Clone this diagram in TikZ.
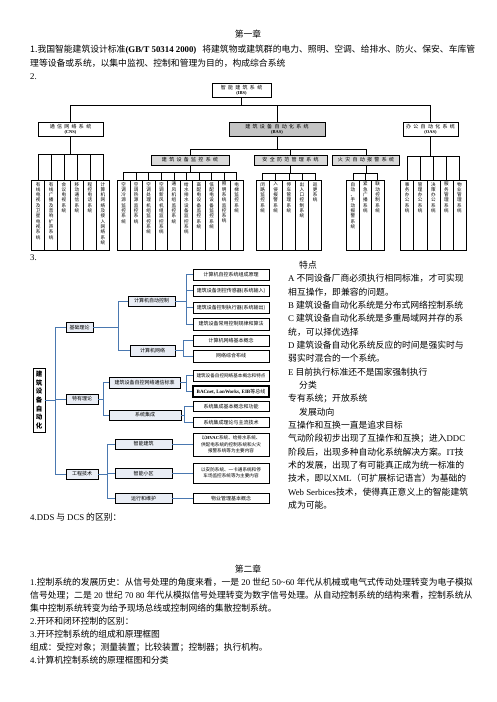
\documentclass[tikz,border=0pt]{standalone}
\usepackage{fontspec}
\setmainfont{Noto Sans CJK SC}
\newfontfamily\tnr{Liberation Serif}
\usetikzlibrary{calc}
\definecolor{bluec}{HTML}{4A78B0}
\definecolor{bfill}{HTML}{E9EDF5}
\definecolor{gA}{HTML}{C4C4C4}
\definecolor{gB}{HTML}{D9D9D9}
\makeatletter
\newdimen\sprgap \sprgap=2.3pt
\def\spr#1{\spr@a#1\relax\kern-\sprgap}
\def\spr@a#1{\ifx\relax#1\else#1\kern\sprgap\expandafter\spr@a\fi}
\def\vst#1{\vst@a#1\relax}
\def\vst@a#1{\ifx\relax#1\else#1\par\expandafter\vst@a\fi}
\makeatother
\begin{document}
\begin{tikzpicture}[x=1pt,y=-1pt,
  body/.style={anchor=base west, inner sep=0pt, font=\fontsize{8.8}{10}\selectfont},
  tbox/.style={draw=black, line width=0.6pt, inner sep=0pt, align=center, font=\fontsize{5}{5.6}\selectfont},
  col/.style={draw=black, line width=0.6pt, inner sep=0pt, minimum height=69.5pt, anchor=north},
  vtx/.style={inner sep=0pt, text width=6pt, align=center, anchor=north, font=\fontsize{4.6}{5.3}\selectfont},
  tl/.style={line width=0.6pt},
  d3/.style={draw=black, line width=0.7pt, fill=bfill, inner sep=0pt, align=center, font=\fontsize{5}{6}\selectfont},
  leaf/.style={draw=black, line width=0.7pt, fill=white, inner sep=0pt, align=center, minimum width=76pt, font=\fontsize{5}{6}\selectfont},
  cn/.style={draw=bluec, line width=0.9pt}]
\useasboundingbox (0,0) rectangle (496,702);
\fill[white] (0,0) rectangle (496,702);

% ---------- top text ----------
\node[body, anchor=base] (ch1) at (248,37.4) {第一章};
\node[body] (p1) at (30,52.4) {1.我国智能建筑设计标准{\tnr\bfseries (GB/T 50314 2000)}\hspace{4pt} 将建筑物或建筑群的电力、照明、空调、给排水、防火、保安、车库管};
\node[body] (p2) at (30,66.4) {理等设备或系统，以集中监视、控制和管理为目的，构成综合系统};
\node[body] (p3) at (30,79.4) {\tnr 2.};

% ---------- tree ----------
\node[tbox, minimum width=59pt, minimum height=14pt] (IBS) at (241.5,90) {\spr{智能建筑系统}\\[-0.5pt]{\tnr\bfseries\fontsize{4.5}{5}\selectfont(IBS)}};
\node[tbox, minimum width=65pt, minimum height=14pt] (CNS) at (70.5,129) {\spr{通信网络系统}\\[-0.5pt]{\tnr\bfseries\fontsize{4.5}{5}\selectfont(CNS)}};
\node[tbox, fill=gA, minimum width=96pt, minimum height=14pt] (BAS) at (277,129) {\spr{建筑设备自动化系统}\\[-0.5pt]{\tnr\bfseries\fontsize{4.5}{5}\selectfont(BAS)}};
\node[tbox, minimum width=55pt, minimum height=14pt] (OAS) at (430.5,129) {\spr{办公自动化系统}\\[-0.5pt]{\tnr\bfseries\fontsize{4.5}{5}\selectfont(OAS)}};
\draw[tl] (IBS.south) -- ++(0,8) -| (CNS.north);
\draw[tl] (IBS.south) -- ++(0,8) -| (BAS.north);
\draw[tl] (IBS.south) -- ++(0,8) -| (OAS.north);

\node[tbox, fill=gB, minimum width=78pt, minimum height=10pt] (JK) at (190,160) {\spr{建筑设备监控系统}};
\node[tbox, fill=gB, minimum width=73pt, minimum height=10pt] (AF) at (290.5,160) {\spr{安全防范管理系统}};
\node[tbox, fill=gB, minimum width=67pt, minimum height=10pt] (HZ) at (366,160) {\spr{火灾自动报警系统}};
\draw[tl] (BAS.south) -- ++(0,13) -| (JK.north);
\draw[tl] (BAS.south) -- ++(0,13) -| (AF.north);
\draw[tl] (BAS.south) -- ++(0,13) -| (HZ.north);

\foreach \tx [count=\i from 0] in {有线电视及卫星电视系统,有线广播及音响扩声系统,会议电视系统,移动通信系统,程控电话系统,计算机网络及接入网络系统}{
  \node[col, minimum width=12.93pt] (c\i) at ({38.17+12.93*\i},180) {};
  \node[vtx] (ct\i) at ([yshift=-2pt]c\i.north) {\expandafter\vst\expandafter{\tx}};
  \draw[tl] (CNS.south) |- ([yshift=26pt]c\i.north) -- (c\i.north);
}
\foreach \tx [count=\i from 0] in {空调冷源监控系统,空调热源监控系统,空调处理机组监控系统,空调新风机组监控系统,通风机组监控系统,给水排水设备监控系统,高配电设备监控系统,低配电设备监控系统,照明系统监控系统,电梯监控系统}{
  \node[col, minimum width=12.57pt] (m\i) at ({123.59+12.57*\i},180) {};
  \node[vtx] (mt\i) at ([yshift=-2pt]m\i.north) {\expandafter\vst\expandafter{\tx}};
  \draw[tl] (JK.south) |- ([yshift=8pt]m\i.north) -- (m\i.north);
}
\foreach \tx [count=\i from 0] in {闭路监控系统,入侵报警系统,停车管理系统,出入口控制系统,巡更系统}{
  \node[col, minimum width=13.14pt] (s\i) at ({262.57+13.14*\i},180) {};
  \node[vtx] (st\i) at ([yshift=-2pt]s\i.north) {\expandafter\vst\expandafter{\tx}};
  \draw[tl] (AF.south) |- ([yshift=7pt]s\i.north) -- (s\i.north);
}
\foreach \tx [count=\i from 0] in {自动、手动报警系统,紧急广播系统,联动控制系统}{
  \node[col, minimum width=12.43pt] (f\i) at ({352.9+12.43*\i},180) {};
  \node[vtx] (ft\i) at ([yshift=-2pt]f\i.north) {\expandafter\vst\expandafter{\tx}};
  \draw[tl] (HZ.south) |- ([yshift=7pt]f\i.north) -- (f\i.north);
}
\foreach \tx [count=\i from 0] in {事务办公系统,管理办公系统,决策办公系统,服务管理系统,物业管理系统}{
  \node[col, minimum width=13.06pt] (o\i) at ({407.23+13.06*\i},180) {};
  \node[vtx] (ot\i) at ([yshift=-2pt]o\i.north) {\expandafter\vst\expandafter{\tx}};
  \draw[tl] (OAS.south) |- ([yshift=24pt]o\i.north) -- (o\i.north);
}

\node[body] (p4) at (30,260.4) {\tnr 3.};

% ---------- diagram 3 ----------
\node[draw=black, line width=0.8pt, fill=white, minimum width=12pt, minimum height=64pt, inner sep=0pt] (R) at (39,400) {};
\node[inner sep=0pt, text width=8pt, align=center, font=\fontsize{6.5}{8.6}\selectfont\bfseries] (Rt) at (R.center) {\vst{建筑设备自动化}};

\node[d3, minimum width=27pt, minimum height=9.5pt] (JC) at (79.5,327.5) {基础理论};
\node[d3, minimum width=32pt, minimum height=10pt] (TY) at (82,399) {特有理论};
\node[d3, minimum width=32pt, minimum height=10pt] (GC) at (82,474) {工程技术};
\draw[cn] (R.east) -- ++(10,0) |- (JC.west);
\draw[cn] (R.east) -- ++(10,0) |- (TY.west);
\draw[cn] (R.east) -- ++(10,0) |- (GC.west);

\node[d3, minimum width=47pt, minimum height=10pt] (JKZ) at (151.5,301) {计算机自动控制};
\node[d3, minimum width=45pt, minimum height=11pt] (JWL) at (152.5,350.5) {计算机网络};
\draw[cn] (JC.east) -- ++(25,0) |- (JKZ.west);
\draw[cn] (JC.east) -- ++(25,0) |- (JWL.west);

\node[d3, minimum width=71pt, minimum height=11pt] (TXB) at (144.5,382.5) {建筑设备自控网络通信标准};
\node[d3, minimum width=72pt, minimum height=10pt] (XTJ) at (145,415) {系统集成};
\draw[cn] (TY.east) -- ++(5,0) |- (TXB.west);
\draw[cn] (TY.east) -- ++(5,0) |- (XTJ.west);

\node[d3, minimum width=57pt, minimum height=10pt] (ZNJ) at (143.5,444) {智能建筑};
\node[d3, minimum width=57pt, minimum height=10pt] (ZNX) at (143.5,473.5) {智能小区};
\node[d3, minimum width=57pt, minimum height=10pt] (YXW) at (143.5,498.5) {运行和维护};
\draw[cn] (GC.east) -- ++(9,0) |- (ZNJ.west);
\draw[cn] (GC.east) -- ++(9,0) |- (ZNX.west);
\draw[cn] (GC.east) -- ++(9,0) |- (YXW.west);

\node[leaf, minimum height=11pt] (L1) at (231,274.5) {计算机自控系统组成原理};
\node[leaf, minimum height=11pt] (L2) at (231,290.5) {建筑设备测控传感器(系统输入)};
\node[leaf, minimum height=11pt] (L3) at (231,307.5) {建筑设备控制执行器(系统输出)};
\node[leaf, minimum height=12pt] (L4) at (231,324) {建筑设备常用控制规律和算法};
\foreach \n in {L1,L2,L3,L4} \draw[cn] (JKZ.east) -- ++(11,0) |- (\n.west);
\node[leaf, minimum height=11pt] (L5) at (231,340.5) {计算机网络基本概念};
\node[leaf, minimum height=12pt] (L6) at (231,356) {网络综合布线};
\foreach \n in {L5,L6} \draw[cn] (JWL.east) -- ++(8,0) |- (\n.west);
\node[leaf, minimum height=11pt, font=\fontsize{4.6}{6}\selectfont] (L7) at (231,375.5) {建筑设备自控网络基本概念和特点};
\node[leaf, minimum height=11pt, line width=1.3pt] (L8) at (231,391.5) {{\tnr\bfseries BACnet, LonWorks, EIB}等总线};
\foreach \n in {L7,L8} \draw[cn] (TXB.east) -- ++(6,0) |- (\n.west);
\node[leaf, minimum height=10pt] (L9) at (231,406.5) {系统集成基本概念和功能};
\node[leaf, minimum height=10pt] (L10) at (231,422.5) {系统集成理论与主流技术};
\foreach \n in {L9,L10} \draw[cn] (XTJ.east) -- ++(3,0) |- (\n.west);
\node[leaf, minimum height=23pt, font=\fontsize{4.6}{6.3}\selectfont] (L11) at (231,444.5) {以{\tnr\bfseries HVAC}系统、给排水系统、\\供配电系统的控制系统和火灾\\报警系统等为主要内容};
\node[leaf, minimum height=20pt, font=\fontsize{4.6}{6.3}\selectfont] (L12) at (231,473) {以安防系统、一卡通系统和停\\车场监控系统等为主要内容};
\node[leaf, minimum height=10pt] (L13) at (231,498.5) {物业管理基本概念};
\draw[cn] (ZNJ.east) -- (ZNJ.east -| L11.west);
\draw[cn] (ZNX.east) -- (ZNX.east -| L12.west);
\draw[cn] (YXW.east) -- (L13.west);

% ---------- right column text ----------
\node[body] (r1) at (299,268.3) {特点};
\node[body] (r2) at (288,281.6) {{\tnr A} 不同设备厂商必须执行相同标准，才可实现};
\node[body] (r3) at (288,295.0) {相互操作，即兼容的问题。};
\node[body] (r4) at (288,308.3) {{\tnr B} 建筑设备自动化系统是分布式网络控制系统};
\node[body] (r5) at (288,321.6) {{\tnr C} 建筑设备自动化系统是多重局域网并存的系};
\node[body] (r6) at (288,335.0) {统，可以择优选择};
\node[body] (r7) at (288,348.3) {{\tnr D} 建筑设备自动化系统反应的时间是强实时与};
\node[body] (r8) at (288,361.6) {弱实时混合的一个系统。};
\node[body] (r9) at (288,375.0) {{\tnr E} 目前执行标准还不是国家强制执行};
\node[body] (r10) at (299,388.3) {分类};
\node[body] (r11) at (288,401.6) {专有系统；开放系统};
\node[body] (r12) at (299,415.0) {发展动向};
\node[body] (r13) at (288,428.3) {互操作和互换一直是追求目标};
\node[body] (r14) at (288,441.6) {气动阶段初步出现了互操作和互换；进入{\tnr DDC}};
\node[body] (r15) at (288,455.0) {阶段后，出现多种自动化系统解决方案。{\tnr IT}技};
\node[body] (r16) at (288,468.3) {术的发展，出现了有可能真正成为统一标准的};
\node[body] (r17) at (288,481.6) {技术，即以{\tnr XML}（可扩展标记语言）为基础的};
\node[body] (r18) at (288,495.0) {{\tnr Web Serbices}技术，使得真正意义上的智能建筑};
\node[body] (r19) at (288,508.3) {成为可能。};

\node[body] (p5) at (30,520.4) {{\tnr 4.DDS} 与 {\tnr DCS} 的区别：};

% ---------- chapter 2 ----------
\node[body, anchor=base] (ch2) at (248,572.4) {第二章};
\node[body] (q1) at (30,585.4) {{\tnr 1.}控制系统的发展历史：从信号处理的角度来看，一是{\tnr\ 20 }世纪{\tnr\ 50\textasciitilde60 }年代从机械或电气式传动处理转变为电子模拟};
\node[body] (q2) at (30,598.4) {信号处理；二是{\tnr\ 20 }世纪{\tnr\ 70 80 }年代从模拟信号处理转变为数字信号处理。从自动控制系统的结构来看，控制系统从};
\node[body] (q3) at (30,611.4) {集中控制系统转变为给予现场总线或控制网络的集散控制系统。};
\node[body] (q4) at (30,624.4) {{\tnr 2.}开环和闭环控制的区别：};
\node[body] (q5) at (30,637.4) {{\tnr 3.}开环控制系统的组成和原理框图};
\node[body] (q6) at (30,650.4) {组成：受控对象；测量装置；比较装置；控制器；执行机构。};
\node[body] (q7) at (30,663.4) {{\tnr 4.}计算机控制系统的原理框图和分类};
\end{tikzpicture}
\end{document}
